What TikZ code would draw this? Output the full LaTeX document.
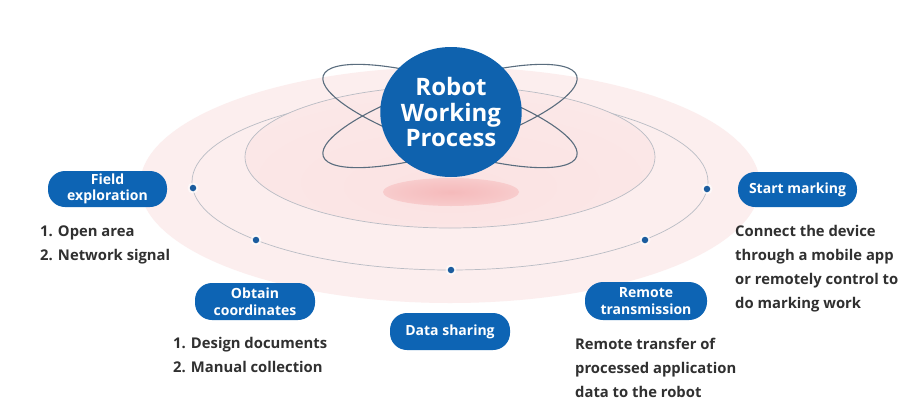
\documentclass[tikz,border=0pt]{standalone}
\usepackage{fontspec}
\setmainfont{Open Sans}
\usetikzlibrary{shapes.geometric}
\definecolor{pillblue}{HTML}{0D64B4}
\definecolor{circblue}{HTML}{0F62AE}
\definecolor{dotblue}{HTML}{1B5C9E}
\definecolor{orbitc}{HTML}{5A6D7E}
\definecolor{ringc}{HTML}{B9BCC4}
\definecolor{txtc}{HTML}{303030}
\definecolor{pinkA}{HTML}{FBE2E2}
\definecolor{pinkB}{HTML}{FCEEEE}
\definecolor{pinkC}{HTML}{FEF7F7}
\definecolor{spotc}{HTML}{F5BABB}
\pgfdeclareradialshading{halo}{\pgfpoint{0bp}{0bp}}{color(0bp)=(pinkB); color(28bp)=(pinkB); color(38bp)=(pinkC); color(46bp)=(pinkC!40!white); color(50bp)=(white)}
\pgfdeclareradialshading{innerglow}{\pgfpoint{0bp}{-14bp}}{color(0bp)=(pinkA); color(25bp)=(pinkA!60!pinkB); color(50bp)=(pinkB)}
\pgfdeclareradialshading{spot}{\pgfpoint{0bp}{0bp}}{color(0bp)=(spotc); color(18bp)=(spotc!70!pinkA); color(50bp)=(pinkA)}
\tikzset{
  pill/.style={fill=pillblue, text=white, rounded corners=17pt, minimum height=36pt,
    minimum width=119pt, align=center, inner sep=2pt,
    font=\bfseries\fontsize{14}{16.5}\selectfont},
  desc/.style={anchor=base west, align=left, inner sep=0pt, text=txtc,
    font=\bfseries\fontsize{14.8}{23.5}\selectfont},
  orbit/.style={draw=orbitc, line width=1.1pt},
  ring/.style={draw=ringc, line width=0.7pt},
  dothalo/.style={circle, fill=white, fill opacity=0.6, minimum size=11pt, inner sep=0pt},
  bluedot/.style={circle, fill=dotblue, minimum size=6.5pt, inner sep=0pt}
}
\begin{document}
\begin{tikzpicture}[x=1pt,y=-1pt]
\useasboundingbox (0,0) rectangle (906,405);
\fill[white] (0,0) rectangle (906,405);
% platform glow
\shade[shading=halo] (450,185) ellipse [x radius=310, y radius=118];
\draw[ring] (450,182) ellipse [x radius=258, y radius=88];
\shade[shading=innerglow] (450,157) ellipse [x radius=205, y radius=71];
\draw[ring] (450,157) ellipse [x radius=205, y radius=71];
\shade[shading=spot] (451,192) ellipse [x radius=68, y radius=14];
% orbits
\draw[orbit, rotate around={-17.6:(450,116)}] (450,116) ellipse [x radius=133, y radius=34];
\draw[orbit, rotate around={17.6:(450,116)}] (450,116) ellipse [x radius=133, y radius=34];
% central circle
\node[ellipse, fill=circblue, minimum width=137pt, minimum height=130pt, inner sep=0pt, text=white, align=center,
  font=\bfseries\fontsize{24}{25.5}\selectfont] (core) at (451,112) {Robot\\Working\\Process};
% dots
\foreach \n/\p in {d1/{(193,188)}, d2/{(256,240)}, d3/{(451,270)}, d4/{(645,240)}, d5/{(707,189)}}{
  \node[dothalo] (\n h) at \p {};
  \node[bluedot] (\n) at \p {};
}
% pills
\node[pill] (field) at (107.5,189) {Field\\exploration};
\node[pill, minimum width=120pt, minimum height=37pt] (obtain) at (255,301.5) {Obtain\\coordinates};
\node[pill, minimum width=120pt, minimum height=37pt] (share) at (450,331.5) {Data sharing};
\node[pill, minimum height=35pt] (start) at (797.5,189.5) {Start marking};
\node[pill, minimum width=122pt, minimum height=38pt, rounded corners=18pt] (remote) at (646,301) {Remote\\transmission};
% descriptions (anchor is the last line's baseline)
\node[desc] (fieldtxt) at (40,260) {1. Open area\\2. Network signal};
\node[desc] (obtaintxt) at (173,372) {1. Design documents\\2. Manual collection};
\node[desc, font=\bfseries\fontsize{14.8}{24}\selectfont] (starttxt) at (735,308) {Connect the device\\through a mobile app\\or remotely control to\\do marking work};
\node[desc, font=\bfseries\fontsize{14.8}{24}\selectfont] (remotetxt) at (575,397) {Remote transfer of\\processed application\\data to the robot};
\end{tikzpicture}
\end{document}
